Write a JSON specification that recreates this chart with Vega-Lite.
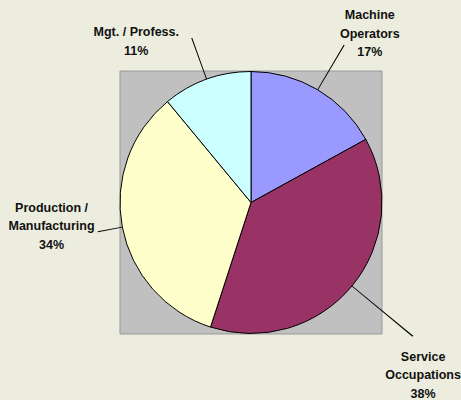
{
  "$schema": "https://vega.github.io/schema/vega-lite/v6.json",
  "width": 262,
  "height": 263,
  "autosize": "none",
  "padding": {"left": 120, "top": 71, "right": 79, "bottom": 66},
  "background": "#ECEDDE",
  "config": {"view": {"stroke": null},
    "text": {"font": "Liberation Sans, Arial", "fontWeight": "bold", "fontSize": 12.5, "lineHeight": 18.5, "lineBreak": "\n", "color": "#111111", "align": "center", "baseline": "middle", "radius": 200}},
  "data": {"values": [
    {"label": "Machine\nOperators", "pct": 17},
    {"label": "Service\nOccupations", "pct": 38},
    {"label": "Production /\nManufacturing", "pct": 34},
    {"label": "Mgt. / Profess.", "pct": 11}
  ]},
  "transform": [
    {"window": [{"op": "sum", "field": "pct", "as": "cum"}]},
    {"calculate": "datum.cum - datum.pct", "as": "start"},
    {"calculate": "datum.cum - datum.pct / 2", "as": "mid"},
    {"calculate": "datum.mid - 0.05", "as": "m1"},
    {"calculate": "datum.mid + 0.05", "as": "m2"},
    {"calculate": "datum.label + '\\n' + datum.pct + '%'", "as": "txt"}
  ],
  "encoding": {
    "theta": {"field": "mid", "type": "quantitative", "stack": null, "scale": {"domain": [0, 100]}}
  },
  "layer": [
    {
      "transform": [{"aggregate": [{"op": "count", "as": "n"}]}],
      "mark": {"type": "rect", "fill": "#C0C0C0", "stroke": "#999999", "strokeWidth": 1},
      "encoding": {"theta": null}
    },
    {
      "mark": {"type": "arc", "outerRadius": 131, "stroke": "#000000", "strokeWidth": 1},
      "encoding": {
        "theta": {"field": "start", "type": "quantitative", "stack": null, "scale": {"domain": [0, 100]}},
        "theta2": {"field": "cum"},
        "color": {"field": "label", "type": "nominal", "legend": null,
          "scale": {"domain": ["Machine\nOperators", "Service\nOccupations", "Production /\nManufacturing", "Mgt. / Profess."],
                    "range": ["#9999FF", "#993366", "#FFFFCC", "#CCFFFF"]}}
      }
    },
    {
      "transform": [{"filter": "datum.pct == 17"}],
      "mark": {"type": "arc", "innerRadius": 131, "outerRadius": 183, "fill": "#000000"},
      "encoding": {
        "theta": {"field": "m1", "type": "quantitative", "stack": null, "scale": {"domain": [0, 100]}},
        "theta2": {"field": "m2"}
      }
    },
    {
      "transform": [{"filter": "datum.pct == 38"}],
      "mark": {"type": "arc", "innerRadius": 131, "outerRadius": 210, "fill": "#000000"},
      "encoding": {
        "theta": {"field": "m1", "type": "quantitative", "stack": null, "scale": {"domain": [0, 100]}},
        "theta2": {"field": "m2"}
      }
    },
    {
      "transform": [{"filter": "datum.pct == 34"}],
      "mark": {"type": "arc", "innerRadius": 131, "outerRadius": 156, "fill": "#000000"},
      "encoding": {
        "theta": {"field": "m1", "type": "quantitative", "stack": null, "scale": {"domain": [0, 100]}},
        "theta2": {"field": "m2"}
      }
    },
    {
      "transform": [{"filter": "datum.pct == 11"}],
      "mark": {"type": "arc", "innerRadius": 131, "outerRadius": 175, "fill": "#000000"},
      "encoding": {
        "theta": {"field": "m1", "type": "quantitative", "stack": null, "scale": {"domain": [0, 100]}},
        "theta2": {"field": "m2"}
      }
    },
    {
      "transform": [{"filter": "datum.pct == 17"}],
      "mark": {"type": "text", "dx": 17, "dy": -15},
      "encoding": {"text": {"field": "txt"}}
    },
    {
      "transform": [{"filter": "datum.pct == 38"}],
      "mark": {"type": "text", "dx": 18, "dy": 27},
      "encoding": {"text": {"field": "txt"}}
    },
    {
      "transform": [{"filter": "datum.pct == 34"}],
      "mark": {"type": "text", "dx": -3, "dy": -32},
      "encoding": {"text": {"field": "txt"}}
    },
    {
      "transform": [{"filter": "datum.pct == 11"}],
      "mark": {"type": "text", "dx": -47, "dy": 18},
      "encoding": {"text": {"field": "txt"}}
    }
  ]
}
